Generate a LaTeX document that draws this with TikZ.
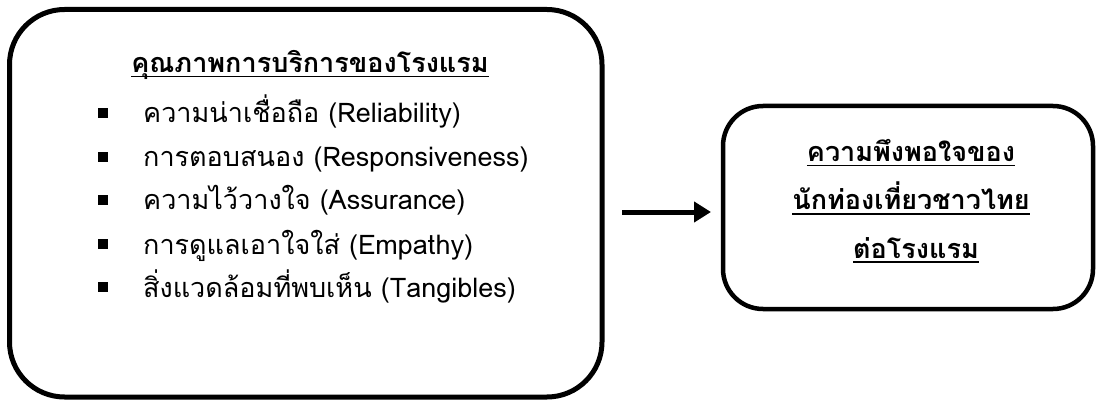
\documentclass[tikz,border=0pt]{standalone}
\usepackage{fontspec}
\setmainfont[Script=Thai]{Loma}
\usetikzlibrary{arrows.meta}
\newcommand\myul[1]{\setbox0\hbox{#1}\rlap{\rule[-4.5pt]{\wd0}{1.4pt}}\box0}
\newcommand\mybullet{\makebox[45pt][l]{\rule[5pt]{10pt}{10pt}}}
\tikzset{
  bigbox/.style={draw=black, line width=5pt, rounded corners=55pt},
  smallbox/.style={draw=black, line width=4.5pt, rounded corners=40pt},
  itemtext/.style={inner sep=0pt, anchor=base west, font=\fontsize{27}{32}\selectfont},
  headtext/.style={inner sep=0pt, anchor=base, font=\fontsize{27}{32}\selectfont\bfseries},
  flow/.style={line width=5pt, -{Triangle[length=17pt,width=20pt]}}
}
\begin{document}
\begin{tikzpicture}[x=1pt,y=-1pt]
\useasboundingbox (0,0) rectangle (1097,406);
\fill[white] (0,0) rectangle (1097,406);
\draw[bigbox] (9.5,9.5) rectangle (602,397);
\node[inner sep=0pt, minimum width=592pt, minimum height=387pt] (lbox) at (305.75,203.25) {};
\draw[smallbox] (723,106) rectangle (1093,309);
\node[inner sep=0pt, minimum width=370pt, minimum height=203pt] (rbox) at (908,207.5) {};
\node[headtext] (title) at (310,73) {\myul{คุณภาพการบริการของโรงแรม}};
\node[itemtext] (i1) at (98,123) {\mybullet ความน่าเชื่อถือ (Reliability)};
\node[itemtext] (i2) at (98,167) {\mybullet การตอบสนอง (Responsiveness)};
\node[itemtext] (i3) at (98,210) {\mybullet ความไว้วางใจ (Assurance)};
\node[itemtext] (i4) at (98,254) {\mybullet การดูแลเอาใจใส่ (Empathy)};
\node[itemtext] (i5) at (98,297) {\mybullet สิ่งแวดล้อมที่พบเห็น (Tangibles)};
\node[headtext] (r1) at (911,162) {\myul{ความพึงพอใจของ}};
\node[headtext] (r2) at (911,210) {\myul{นักท่องเที่ยวชาวไทย}};
\node[headtext] (r3) at (916,258) {\myul{ต่อโรงแรม}};
\coordinate (a1) at (622,212);
\coordinate (a2) at (711,212);
\draw[flow] (a1) -- (a2);
\end{tikzpicture}
\end{document}
